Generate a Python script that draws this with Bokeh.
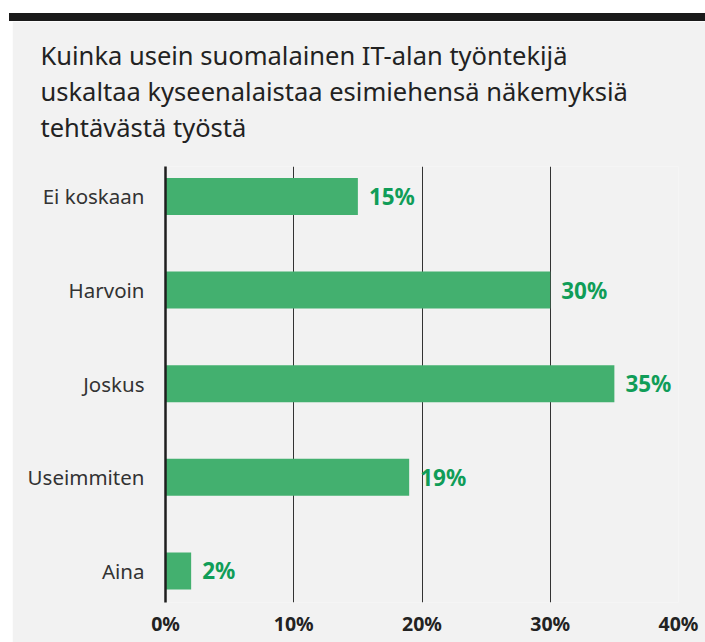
from bokeh.plotting import figure
from bokeh.models import (Range1d, FixedTicker, PrintfTickFormatter, Title, Div,
                          ColumnDataSource, LinearAxis)
from bokeh.layouts import column
from bokeh.core.properties import value
from bokeh.embed import file_html
from bokeh.resources import INLINE

title_lines = ["Kuinka usein suomalainen IT-alan työntekijä",
               "uskaltaa kyseenalaistaa esimiehensä näkemyksiä",
               "tehtävästä työstä"]
categories = ["Ei koskaan", "Harvoin", "Joskus", "Useimmiten", "Aina"]
values = [15, 30, 35, 19, 2]
x_ticks = [0, 10, 20, 30, 40]

FONT = "Noto Sans"
BG = "#f2f2f2"
n = len(categories)
ypos = [n - 1 - i for i in range(n)]
src = ColumnDataSource(dict(y=ypos, v=values, cat=categories,
                            lab=[f"{v}%" for v in values]))

p = figure(frame_width=513, frame_height=436, output_backend="svg",
           toolbar_location=None, x_range=Range1d(0, 40),
           y_range=Range1d(-0.337, 4.32),
           min_border_left=153, min_border_right=27, min_border_bottom=40,
           min_border_top=145, margin=(0, 0, 0, 12))
p.background_fill_color = BG
p.border_fill_color = BG
p.outline_line_color = None

p.hbar(y="y", left=0, right="v", height=0.395, source=src,
       fill_color="#43b06f", line_color=None)
p.text(x="v", y="y", text="lab", source=src, x_offset=11,
       text_baseline="middle", text_align="left",
       text_font=value(FONT), text_font_style="bold",
       text_font_size="22.5px", text_color="#109d58")

# axes
p.xaxis.ticker = FixedTicker(ticks=x_ticks)
p.xaxis.formatter = PrintfTickFormatter(format="%d%%")
p.xaxis.axis_line_color = None
p.xaxis.major_tick_line_color = None
p.xaxis.minor_tick_line_color = None
p.xaxis.major_label_text_font = FONT
p.xaxis.major_label_text_font_style = "bold"
p.xaxis.major_label_text_font_size = "19.5px"
p.xaxis.major_label_text_color = "#222222"
p.xaxis.major_label_standoff = 1

p.yaxis.ticker = FixedTicker(ticks=ypos)
p.yaxis.major_label_overrides = {y: c for y, c in zip(ypos, categories)}
p.yaxis.axis_line_color = "#1e1e1e"
p.yaxis.axis_line_width = 2.5
p.yaxis.major_tick_line_color = None
p.yaxis.minor_tick_line_color = None
p.yaxis.major_label_text_font = FONT
p.yaxis.major_label_text_font_size = "20.5px"
p.yaxis.major_label_text_color = "#333333"
p.yaxis.major_label_standoff = 15

p.xgrid.ticker = FixedTicker(ticks=x_ticks)
p.xgrid.grid_line_color = "#333333"
p.xgrid.grid_line_width = 1
p.ygrid.grid_line_color = None

# spacer between plot area and title: one tick in the background colour
spacer = LinearAxis(ticker=FixedTicker(ticks=[x_ticks[0]]), axis_line_color=None,
                    major_tick_line_color=BG, minor_tick_line_color=None,
                    major_tick_in=0, major_tick_out=23, minor_tick_out=0,
                    major_label_standoff=0,
                    major_label_overrides={x_ticks[0]: ""})
p.add_layout(spacer, "above")

for t in reversed(title_lines):
    p.add_layout(Title(text=t, align="left", offset=-125,
                       text_font=FONT, text_font_size="25.5px",
                       text_font_style="normal", text_color="#222222",
                       standoff=0), "above")

black_bar = Div(width=696, height=8, margin=(13, 0, 0, 9),
                styles={"background-color": "#1a1a1a"})

layout = column(black_bar, p, spacing=0)
open("out.html", "w").write(file_html(layout, INLINE))
